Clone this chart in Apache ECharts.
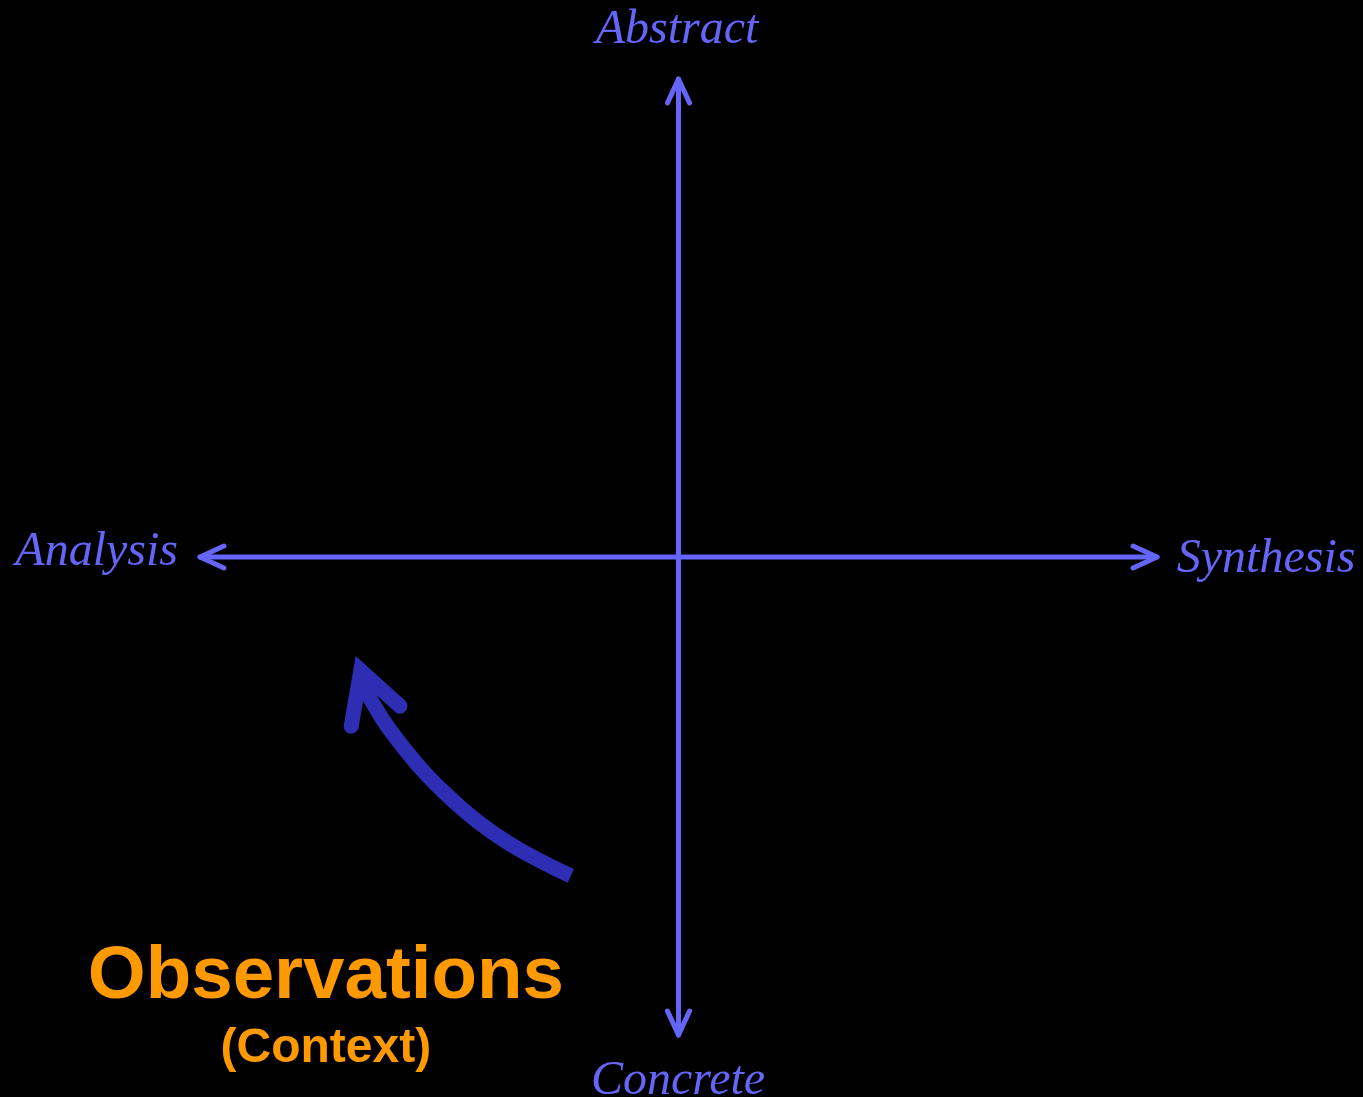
<!DOCTYPE html>
<html>
<head>
<meta charset="utf-8">
<title>Abstract / Concrete – Analysis / Synthesis</title>
<script src="https://cdn.jsdelivr.net/npm/echarts@6/dist/echarts.min.js"></script>
<style>
  html, body { margin: 0; padding: 0; background: #000; }
  #chart { width: 1363px; height: 1097px; }
</style>
</head>
<body>
<div id="chart"></div>
<script>
// diagram space: centre is (0, 0), each axis runs -10 .. 10
const hAxisX = [-10, 10]
const hAxisY = [0, 0]
const vAxisX = [0, 0]
const vAxisY = [-10, 10]

// open arrow heads at the four axis ends (wing, tip, wing)
const headLeftX = [-9.5, -10, -9.5]
const headLeftY = [0.23, 0, -0.23]
const headRightX = [9.5, 10, 9.5]
const headRightY = [0.23, 0, -0.23]
const headTopX = [-0.23, 0, 0.23]
const headTopY = [9.5, 10, 9.5]
const headBottomX = [-0.23, 0, 0.23]
const headBottomY = [-9.5, -10, -9.5]

// curved "observations" arrow
const curveX = [-2.25, -2.92, -3.56, -4.19, -4.75, -5.28, -5.76, -6.2, -6.57]
const curveY = [-6.67, -6.34, -5.98, -5.54, -5.06, -4.54, -3.97, -3.37, -2.72]
const curveHeadX = [-6.84, -6.64, -5.82]
const curveHeadY = [-3.54, -2.38, -3.12]

// text
const axisNames = ['Abstract', 'Synthesis', 'Concrete', 'Analysis']
const axisNameX = [-0.03, 12.28, -0.01, -12.16]
const axisNameY = [11.01, -0.04, -10.96, 0.09]
const noteTitle = 'Observations'
const noteSub = '(Context)'
const noteX = [-7.37, -7.37]
const noteY = [-8.79, -10.28]

const axisBlue = '#6565fa'
const arrowBlue = '#2e2eb4'
const orange = '#ff9900'

const zip = (xs, ys) => xs.map((x, i) => [x, ys[i]])

const lineSeries = (xs, ys, lineStyle, extra = {}) => ({
  type: 'line',
  data: zip(xs, ys),
  symbol: 'none',
  clip: false,
  silent: true,
  lineStyle,
  ...extra,
})

const axisStyle = { color: axisBlue, width: 5, cap: 'round', join: 'round' }

const chart = echarts.init(document.getElementById('chart'))

const textItems = [
  ...axisNames.map((name, i) => ({
    value: [axisNameX[i], axisNameY[i]],
    label: {
      formatter: name,
      color: axisBlue,
      fontFamily: '"Liberation Serif", "DejaVu Serif", serif',
      fontStyle: 'italic',
      fontSize: 48,
    },
  })),
  {
    value: [noteX[0], noteY[0]],
    label: {
      formatter: noteTitle,
      color: orange,
      fontFamily: '"Liberation Sans", Arial, sans-serif',
      fontWeight: 'bold',
      fontSize: 74.5,
    },
  },
  {
    value: [noteX[1], noteY[1]],
    label: {
      formatter: noteSub,
      color: orange,
      fontFamily: '"Liberation Sans", Arial, sans-serif',
      fontWeight: 'bold',
      fontSize: 48,
    },
  },
]

chart.setOption({
  backgroundColor: '#000',
  animation: false,
  grid: { left: 200, right: 206, top: 79, bottom: 62 },
  xAxis: { type: 'value', min: -10, max: 10, show: false },
  yAxis: { type: 'value', min: -10, max: 10, show: false },
  series: [
    lineSeries(hAxisX, hAxisY, axisStyle),
    lineSeries(vAxisX, vAxisY, axisStyle),
    lineSeries(headLeftX, headLeftY, axisStyle),
    lineSeries(headRightX, headRightY, axisStyle),
    lineSeries(headTopX, headTopY, axisStyle),
    lineSeries(headBottomX, headBottomY, axisStyle),
    lineSeries(curveX, curveY,
      { color: arrowBlue, width: 15, cap: 'butt', join: 'round' },
      { smooth: 0.5 }),
    lineSeries(curveHeadX, curveHeadY,
      { color: arrowBlue, width: 15, cap: 'round', join: 'miter', miterLimit: 10 }),
    {
      type: 'scatter',
      data: textItems,
      symbolSize: 1,
      clip: false,
      silent: true,
      itemStyle: { color: 'rgba(0,0,0,0)', opacity: 1 },
      label: { show: true, position: 'inside', align: 'center', verticalAlign: 'middle', opacity: 1 },
    },
  ],
})
</script>
</body>
</html>
